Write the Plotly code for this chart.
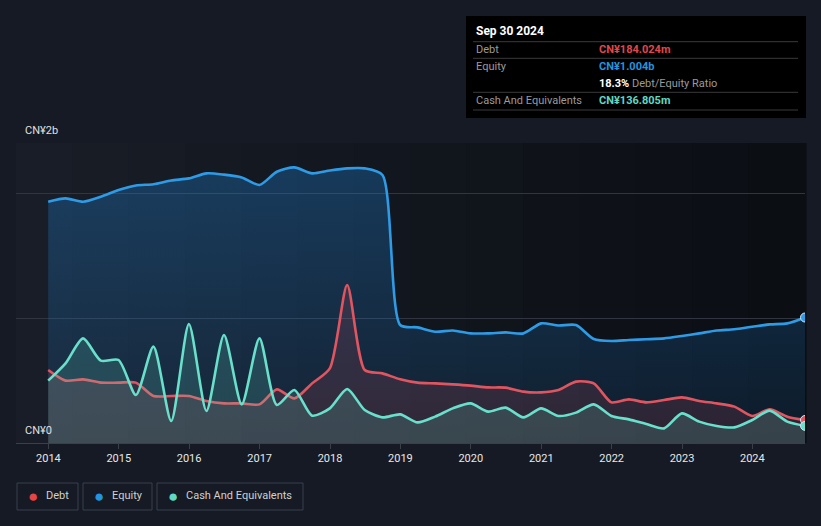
import plotly.graph_objects as go

# quarterly balance sheet, CN¥ billions
dates = []
for yr in range(2014, 2025):
    dates += [f"{yr - 1}-12-31", f"{yr}-03-31", f"{yr}-06-30", f"{yr}-09-30"]

equity = [1.93, 1.957, 1.93, 1.97,
          2.024, 2.06, 2.07, 2.10,
          2.117, 2.157, 2.147, 2.125,
          2.064, 2.17, 2.205, 2.157,
          2.18, 2.197, 2.197, 2.144,
          0.944, 0.925, 0.89, 0.90,
          0.877, 0.877, 0.885, 0.877,
          0.957, 0.94, 0.944, 0.832,
          0.816, 0.824, 0.83, 0.837,
          0.856, 0.877, 0.90, 0.91,
          0.93, 0.949, 0.957, 1.004]

debt = [0.584, 0.499, 0.509, 0.483,
        0.483, 0.483, 0.376, 0.376,
        0.376, 0.336, 0.317, 0.317,
        0.309, 0.429, 0.357, 0.477,
        0.597, 1.264, 0.584, 0.557,
        0.51, 0.483, 0.477, 0.469,
        0.459, 0.445, 0.443, 0.411,
        0.405, 0.424, 0.491, 0.477,
        0.325, 0.349, 0.325, 0.344,
        0.365, 0.336, 0.317, 0.291,
        0.216, 0.269, 0.211, 0.184]

cash = [0.499, 0.637, 0.837, 0.659,
        0.664, 0.384, 0.771, 0.176,
        0.952, 0.256, 0.864, 0.309,
        0.837, 0.304, 0.424, 0.219,
        0.277, 0.432, 0.264, 0.205,
        0.229, 0.165, 0.211, 0.277,
        0.317, 0.251, 0.283, 0.205,
        0.277, 0.216, 0.243, 0.309,
        0.216, 0.189, 0.152, 0.117,
        0.237, 0.171, 0.136, 0.125,
        0.184, 0.259, 0.171, 0.137]

year_ticks = [f"{y}-01-01" for y in range(2014, 2025)]
year_labels = [str(y) for y in range(2014, 2025)]

DEBT_C = "#e05560"
EQ_C = "#2e9be6"
CASH_C = "#68e0cc"
BG = "#151a24"

W, H = 821, 526
L, R, T, B = 16, 805, 143, 443


def px(x):
    return (x - L) / (R - L)


def py(y):
    return (B - y) / (B - T)


fig = go.Figure()

fig.add_trace(go.Scatter(
    x=dates, y=equity, name="Equity", mode="lines",
    line=dict(color=EQ_C, width=2.6, shape="spline", smoothing=0.7),
    fill="tozeroy",
    fillgradient=dict(type="vertical",
                      colorscale=[[0, "rgba(33,140,230,0.10)"], [1, "rgba(33,140,230,0.30)"]]),
))
fig.add_trace(go.Scatter(
    x=dates, y=debt, name="Debt", mode="lines",
    line=dict(color=DEBT_C, width=2.6, shape="spline", smoothing=0.7),
    fill="tozeroy", fillcolor="rgba(224,80,96,0.15)",
))
fig.add_trace(go.Scatter(
    x=dates, y=cash, name="Cash And Equivalents", mode="lines",
    line=dict(color=CASH_C, width=2.6, shape="spline", smoothing=0.7),
    fill="tozeroy", fillcolor="rgba(104,224,204,0.17)",
))

# end-point markers
for series, col in [(equity, EQ_C), (debt, DEBT_C), (cash, CASH_C)]:
    fig.add_trace(go.Scatter(
        x=[dates[-1]], y=[series[-1]], mode="markers", showlegend=False,
        marker=dict(color=col, size=9, line=dict(color="#cfe8f5", width=1)),
        hoverinfo="skip",
    ))

shapes = []
# plot background, darkening to the right
n = 14
c0 = (24, 29, 39)
c1 = (11, 14, 19)
for i in range(n):
    t = i / (n - 1)
    c = tuple(round(c0[k] + (c1[k] - c0[k]) * t) for k in range(3))
    shapes.append(dict(type="rect", xref="paper", yref="paper",
                       x0=i / n, x1=(i + 1) / n + 0.002, y0=0, y1=1,
                       fillcolor="rgb(%d,%d,%d)" % c, line=dict(width=0), layer="below"))

# tooltip box
shapes.append(dict(type="rect", xref="paper", yref="paper",
                   x0=px(466), x1=px(806), y0=py(118), y1=py(16),
                   fillcolor="#000000", line=dict(width=0)))
for yy in [41.7, 58.3, 92.3, 110]:
    shapes.append(dict(type="line", xref="paper", yref="paper",
                       x0=px(473), x1=px(798), y0=py(yy), y1=py(yy),
                       line=dict(color="#3a3a3a", width=1)))

# legend boxes
legend_items = [("Debt", "#e64545", 17, 78), ("Equity", "#2394df", 83, 152),
                ("Cash And Equivalents", "#5fd8c4", 157, 303)]
for name, col, x0, x1 in legend_items:
    shapes.append(dict(type="rect", xref="paper", yref="paper",
                       x0=px(x0), x1=px(x1), y0=py(510), y1=py(483),
                       line=dict(color="#3a404c", width=1), fillcolor="rgba(0,0,0,0)"))

ann = []
FONT = "Roboto"


def txt(x, y, s, color="#e8e8e8", size=11):
    ann.append(dict(xref="paper", yref="paper", x=px(x), y=py(y), text=s,
                    showarrow=False, xanchor="left", yanchor="middle",
                    font=dict(family=FONT, size=size, color=color)))


txt(474, 31, "<b>Sep 30 2024</b>", "#ffffff", 12)
txt(474, 49.5, "Debt", "#9a9a9a")
txt(597, 49.5, "<b>CN¥184.024m</b>", "#e0474c")
txt(474, 66, "Equity", "#9a9a9a")
txt(597, 66, "<b>CN¥1.004b</b>", "#2394df")
txt(597, 83, "<b>18.3%</b> <span style='color:#9a9a9a'>Debt/Equity Ratio</span>", "#ffffff")
txt(474, 100, "Cash And Equivalents", "#9a9a9a")
txt(597, 100, "<b>CN¥136.805m</b>", "#5fd8c4")

txt(23, 130, "CN¥2b", "#e0e0e0")
txt(23, 430, "CN¥0", "#e0e0e0")

for name, col, x0, x1 in legend_items:
    txt(x0 + 9, 496, "●", col, 17)
    txt(x0 + 27, 495.5, name, "#d0d0d0", 11)

fig.update_layout(
    width=W, height=H,
    margin=dict(l=L, r=W - R, t=T, b=H - B),
    paper_bgcolor=BG, plot_bgcolor=BG,
    showlegend=False,
    shapes=shapes, annotations=ann,
    font=dict(family=FONT, color="#e0e0e0"),
    xaxis=dict(
        type="date", range=["2013-07-17", "2024-09-30"],
        tickvals=year_ticks, ticktext=year_labels,
        showgrid=False, zeroline=False,
        showline=True, linecolor="#3a3f48", linewidth=1,
        ticks="outside", ticklen=5, tickcolor="#3a3f48",
        tickfont=dict(family=FONT, size=11, color="#e8e8e8"),
    ),
    yaxis=dict(
        range=[0, 2.4], tickvals=[0, 1, 2, 2.4], showticklabels=False,
        showgrid=True, gridcolor="#30353f", gridwidth=1, zeroline=False,
        fixedrange=True,
    ),
)

fig.write_html("out.html", config={"displayModeBar": False},
               post_script="document.body.style.margin='0';document.body.style.background='%s';" % BG)
